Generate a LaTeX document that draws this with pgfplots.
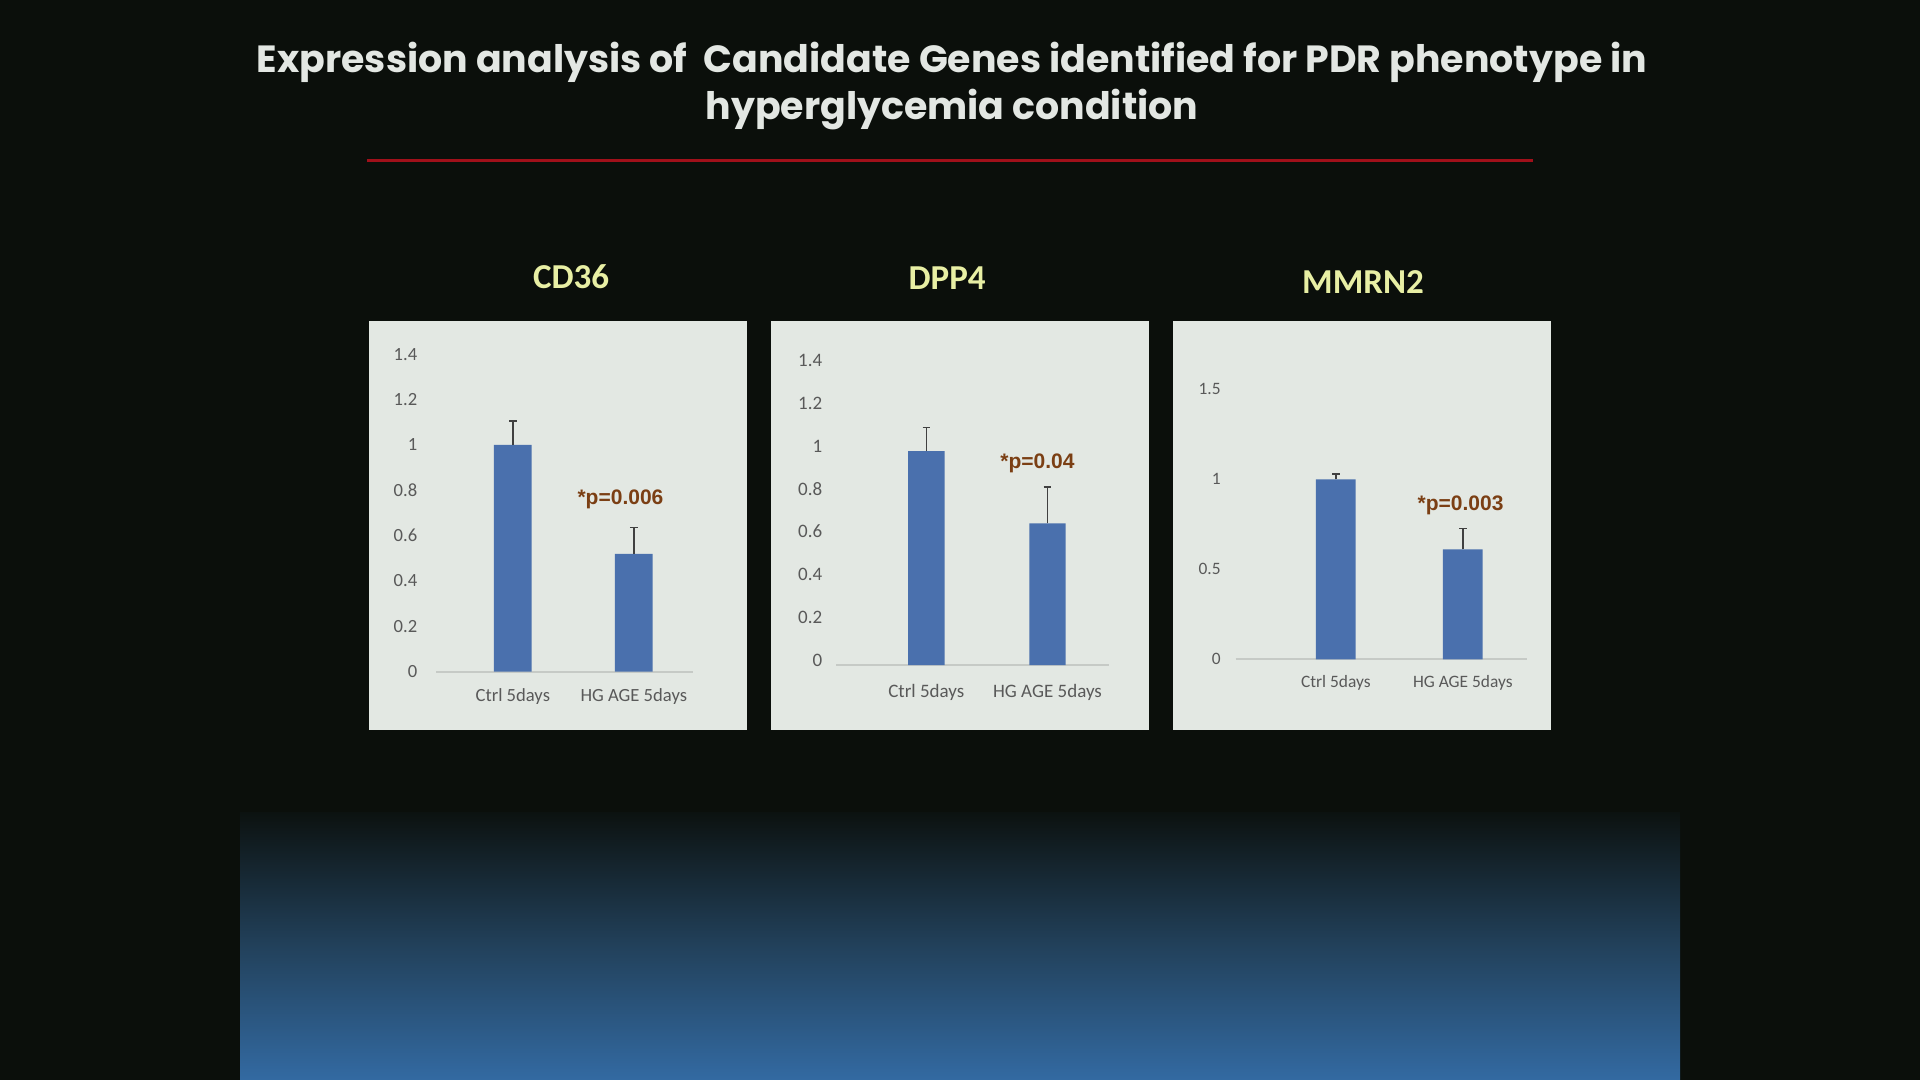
\documentclass[border=0pt]{standalone}
\usepackage{fontspec}
\setmainfont{Carlito}
\newfontfamily\titlefont{Poppins}
\newfontfamily\arialfont{Liberation Sans}
\usepackage{pgfplots}
\pgfplotsset{compat=1.18}
\definecolor{bgc}{HTML}{0B0F0B}
\definecolor{panelc}{HTML}{E3E8E3}
\definecolor{barc}{HTML}{4A70AD}
\definecolor{axc}{HTML}{C6CAC6}
\definecolor{errc}{HTML}{404040}
\definecolor{tickc}{HTML}{595959}
\definecolor{pc}{HTML}{7B3F14}
\definecolor{ptitlec}{HTML}{E8EFA4}
\definecolor{titlec}{HTML}{E3E7E3}
\definecolor{redc}{HTML}{A0101A}
\definecolor{gtop}{HTML}{0C1210}
\definecolor{gmid}{HTML}{22415B}
\definecolor{gbot}{HTML}{336AA2}
\pgfplotsset{
  panelaxis/.style={
    scale only axis, anchor=south west,
    axis x line*=bottom, axis y line*=left,
    x axis line style={draw=axc, line width=1pt},
    y axis line style={draw=none},
    major tick length=0pt, tick style={draw=none},
    ymin=0, xtick={0,1},
    xticklabels={Ctrl 5days, HG AGE 5days},
    ticklabel style={text=tickc},
    xticklabel style={anchor=center, inner sep=0pt},
    yticklabel style={anchor=east, inner sep=0pt},
    clip=false,
  },
  barstyle/.style={ybar, bar width=#1, fill=barc, draw=none,
    error bars/.cd, y dir=plus, y explicit,
    error bar style={line width=0.75pt, color=errc},
    error mark=|, error mark options={line width=0.75pt, color=errc, mark size=1.9pt}},
}
\begin{document}
\begin{tikzpicture}
% background
\fill[bgc] (0pt,0pt) rectangle (960pt,-540pt);
\shade[top color=gtop, bottom color=gbot, middle color=gmid] (120pt,-406pt) rectangle (840pt,-540pt);
% title
\node[text=titlec, font=\titlefont\bfseries\fontsize{18.95pt}{24pt}\selectfont, anchor=base] at (476pt,-36.3pt) {Expression analysis of \ Candidate Genes identified for PDR phenotype in};
\node[text=titlec, font=\titlefont\bfseries\fontsize{18.95pt}{24pt}\selectfont, anchor=base] at (476pt,-60pt) {hyperglycemia condition};
\draw[redc, line width=1.1pt] (183.5pt,-80.3pt) -- (766.3pt,-80.3pt);
% panel titles
\node[text=ptitlec, font=\bfseries\fontsize{17.5pt}{20pt}\selectfont, anchor=base] at (285.6pt,-144.2pt) {CD36};
\node[text=ptitlec, font=\bfseries\fontsize{17.5pt}{20pt}\selectfont, anchor=base] at (473.6pt,-145pt) {DPP4};
\node[text=ptitlec, font=\bfseries\fontsize{17.5pt}{20pt}\selectfont, anchor=base] at (681.5pt,-146.8pt) {MMRN2};
% panels
\fill[panelc] (184.5pt,-160.5pt) rectangle (373.3pt,-365pt);
\fill[panelc] (385.5pt,-160.5pt) rectangle (574.5pt,-365pt);
\fill[panelc] (586.5pt,-160.5pt) rectangle (775.5pt,-365pt);

% CD36
\begin{axis}[panelaxis,
  at={(218pt,-335.85pt)}, width=128.65pt, height=158.7pt,
  xmin=-0.635, xmax=1.492, ymax=1.4,
  ytick={0,0.2,0.4,0.6,0.8,1,1.2,1.4},
  yticklabels={0,0.2,0.4,0.6,0.8,1,1.2,1.4},
  ticklabel style={font=\fontsize{9.3pt}{11pt}\selectfont},
  xticklabel style={yshift=-12.2pt},
  yticklabel style={xshift=-9.2pt},
]
\addplot[barstyle=18.85pt] coordinates {(0,1.0) +- (0,0.105) (1,0.52) +- (0,0.117)};
\node[text=pc, font=\arialfont\bfseries\fontsize{10.5pt}{12pt}\selectfont] at (axis cs:0.89,0.762) {*p=0.006};
\end{axis}

% DPP4
\begin{axis}[panelaxis,
  at={(418pt,-332.5pt)}, width=136.65pt, height=149.75pt,
  xmin=-0.745, xmax=1.51, ymax=1.4,
  ytick={0,0.2,0.4,0.6,0.8,1,1.2,1.4},
  yticklabels={0,0.2,0.4,0.6,0.8,1,1.2,1.4},
  ticklabel style={font=\fontsize{9.5pt}{11pt}\selectfont},
  xticklabel style={yshift=-13.8pt},
  yticklabel style={xshift=-6.7pt, yshift=2.5pt},
]
\addplot[barstyle=18.2pt] coordinates {(0,1.0) +- (0,0.11) (1,0.662) +- (0,0.169)};
\node[text=pc, font=\arialfont\bfseries\fontsize{10.5pt}{12pt}\selectfont] at (axis cs:0.917,0.943) {*p=0.04};
\end{axis}

% MMRN2
\begin{axis}[panelaxis,
  at={(617.85pt,-329.65pt)}, width=145.5pt, height=135pt,
  xmin=-0.788, xmax=1.503, ymax=1.5,
  ytick={0,0.5,1,1.5},
  yticklabels={0,0.5,1,1.5},
  ticklabel style={font=\fontsize{8.7pt}{10pt}\selectfont},
  xticklabel style={yshift=-11.7pt},
  yticklabel style={xshift=-7.35pt},
]
\addplot[barstyle=19.85pt] coordinates {(0,1.0) +- (0,0.03) (1,0.611) +- (0,0.117)};
\node[text=pc, font=\arialfont\bfseries\fontsize{10.5pt}{12pt}\selectfont] at (axis cs:0.982,0.857) {*p=0.003};
\end{axis}
\end{tikzpicture}
\end{document}
